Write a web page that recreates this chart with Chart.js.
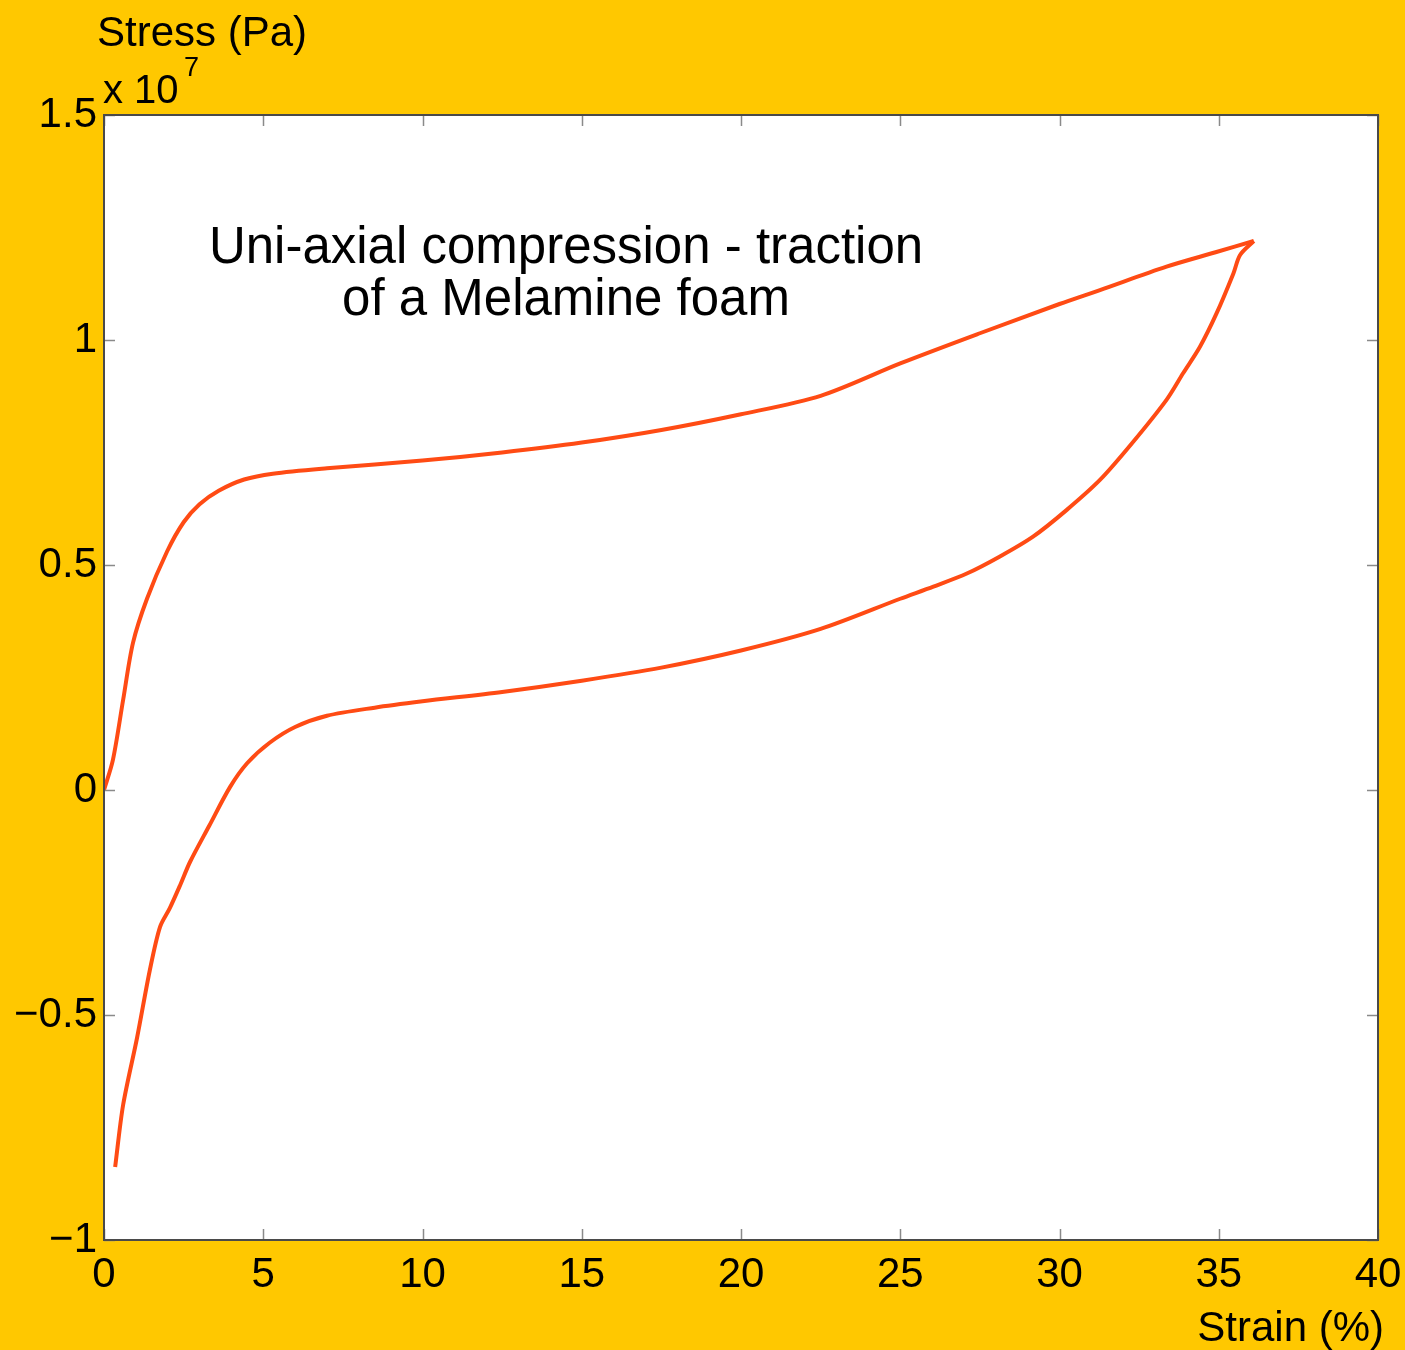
<!DOCTYPE html>
<html>
  <head>
    <script src="https://cdn.jsdelivr.net/npm/chart.js@4.4.1/dist/chart.umd.min.js"></script>
    <style>
      body { margin: 0; background: #ffc800; }
    </style>
  </head>
  <body>
    <canvas id="myChart" width="1405" height="1350"></canvas>

    <script>
      // strain in %, stress in units of 10^7 Pa
      var loadStrain = [0, 0.28, 0.6, 0.91, 1.35, 1.98, 2.5, 3.0, 3.6, 4.4, 5.3, 7.0, 10, 12.5, 15, 17.5, 20, 22.5, 25, 27.5, 30, 31.27, 33.36, 34.9, 36.1];
      var loadStress = [0, 0.067, 0.2, 0.327, 0.425, 0.53, 0.595, 0.635, 0.665, 0.69, 0.703, 0.715, 0.732, 0.75, 0.772, 0.8, 0.835, 0.876, 0.948, 1.015, 1.08, 1.111, 1.163, 1.195, 1.22];

      var unloadStrain = [36.1, 35.67, 35.46, 34.93, 34.41, 33.88, 33.36, 32.27, 31.27, 30.22, 29.17, 28.13, 27.09, 26.04, 25, 22.5, 20, 17.5, 15, 12.5, 10, 8.5, 7.0, 6.0, 5.2, 4.5, 3.96, 3.3, 2.7, 2.4, 2.07, 1.76, 1.44, 1.04, 0.6, 0.35];
      var unloadStress = [1.22, 1.189, 1.148, 1.059, 0.985, 0.926, 0.867, 0.77, 0.689, 0.622, 0.563, 0.519, 0.481, 0.452, 0.425, 0.358, 0.31, 0.272, 0.243, 0.218, 0.197, 0.183, 0.165, 0.14, 0.105, 0.06, 0.007, -0.08, -0.16, -0.21, -0.262, -0.304, -0.4, -0.55, -0.7, -0.838];

      var xTicks = [0, 5, 10, 15, 20, 25, 30, 35, 40];
      var yTicks = [-1, -0.5, 0, 0.5, 1, 1.5];

      var noteLines = ["Uni-axial compression - traction", "of a Melamine foam"];

      function toPoints(xs, ys) {
        var pts = [];
        for (var i = 0; i < xs.length; i++) pts.push({ x: xs[i], y: ys[i] });
        return pts;
      }

      var FONT = "'Liberation Sans', Arial, Helvetica, sans-serif";
      var lineColor = "#ff4b14";

      // backgrounds, frame, inner ticks and texts
      var decor = {
        id: "decor",
        beforeDraw: function (chart) {
          var ctx = chart.ctx;
          var a = chart.chartArea;
          ctx.save();
          ctx.fillStyle = "#ffc800";
          ctx.fillRect(0, 0, chart.width, chart.height);
          ctx.fillStyle = "#ffffff";
          ctx.fillRect(a.left, a.top, a.right - a.left, a.bottom - a.top);
          ctx.restore();
        },
        afterDraw: function (chart) {
          var ctx = chart.ctx;
          var a = chart.chartArea;
          var xs = chart.scales.x;
          var ys = chart.scales.y;
          ctx.save();

          // inner ticks
          ctx.strokeStyle = "#8a8a8a";
          ctx.lineWidth = 1.5;
          var len = 11;
          ctx.beginPath();
          xTicks.forEach(function (t) {
            var px = Math.round(xs.getPixelForValue(t)) + 0.5;
            ctx.moveTo(px, a.bottom);
            ctx.lineTo(px, a.bottom - len);
            ctx.moveTo(px, a.top);
            ctx.lineTo(px, a.top + len);
          });
          yTicks.forEach(function (t) {
            var py = Math.round(ys.getPixelForValue(t)) + 0.5;
            ctx.moveTo(a.left, py);
            ctx.lineTo(a.left + len, py);
            ctx.moveTo(a.right, py);
            ctx.lineTo(a.right - len, py);
          });
          ctx.stroke();

          // frame
          ctx.strokeStyle = "#4a4a4a";
          ctx.lineWidth = 2;
          ctx.strokeRect(a.left, a.top, a.right - a.left, a.bottom - a.top);

          // texts
          ctx.fillStyle = "#000000";
          ctx.textBaseline = "alphabetic";
          ctx.textAlign = "left";
          ctx.font = "42px " + FONT;
          ctx.fillText("Stress (Pa)", 97, 46);
          ctx.font = "40px " + FONT;
          ctx.fillText("x 10", 103, 103);
          ctx.font = "27px " + FONT;
          ctx.fillText("7", 184, 76);

          ctx.font = "42px " + FONT;
          ctx.textAlign = "right";
          ctx.fillText("Strain (%)", 1384, 1341);

          ctx.font = "51px " + FONT;
          ctx.textAlign = "center";
          ctx.fillText(noteLines[0], 566, 263);
          ctx.fillText(noteLines[1], 566, 315);

          ctx.restore();
        },
      };

      var ctx = document.getElementById("myChart").getContext("2d");
      var myChart = new Chart(ctx, {
        type: "scatter",
        data: {
          datasets: [
            {
              label: "Loading",
              data: toPoints(loadStrain, loadStress),
              showLine: true,
              borderColor: lineColor,
              borderWidth: 4,
              pointRadius: 0,
              tension: 0.3,
              fill: false,
            },
            {
              label: "Unloading",
              data: toPoints(unloadStrain, unloadStress),
              showLine: true,
              borderColor: lineColor,
              borderWidth: 4,
              pointRadius: 0,
              tension: 0.3,
              fill: false,
            },
          ],
        },
        options: {
          responsive: false,
          animation: false,
          layout: { padding: { left: 0, top: 115, right: 27, bottom: 0 } },
          plugins: {
            legend: { display: false },
            tooltip: { enabled: false },
          },
          scales: {
            x: {
              type: "linear",
              min: 0,
              max: 40,
              border: { display: false },
              grid: { display: false, drawTicks: false },
              ticks: {
                stepSize: 5,
                padding: 10,
                color: "#000",
                font: { family: FONT, size: 42 },
              },
              afterFit: function (scale) {
                scale.height = 110;
                scale.paddingLeft = 0;
                scale.paddingRight = 0;
              },
            },
            y: {
              type: "linear",
              min: -1,
              max: 1.5,
              border: { display: false },
              grid: { display: false, drawTicks: false },
              ticks: {
                stepSize: 0.5,
                padding: 7,
                color: "#000",
                font: { family: FONT, size: 42 },
                callback: function (v) {
                  return v < 0 ? "\u2212" + Math.abs(v) : String(v);
                },
              },
              afterFit: function (scale) {
                scale.width = 104;
                scale.paddingTop = 0;
                scale.paddingBottom = 0;
              },
            },
          },
        },
        plugins: [decor],
      });
    </script>
  </body>
</html>
